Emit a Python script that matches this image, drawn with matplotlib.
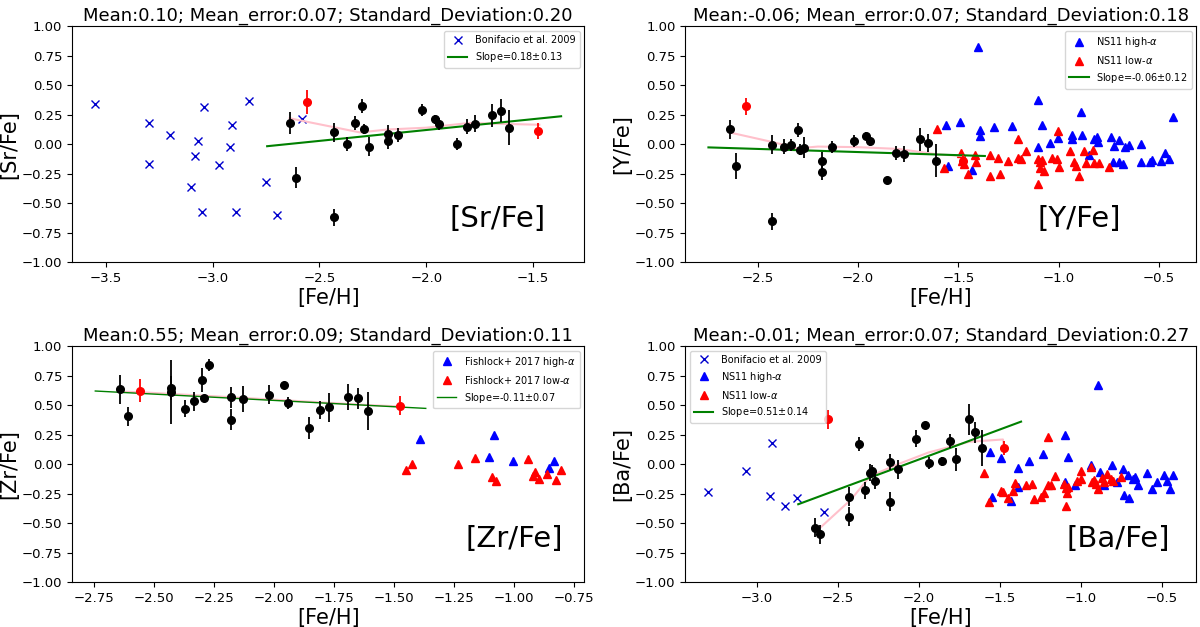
#recreates the neutron-capture abundance panels ([Sr/Fe], [Y/Fe], [Zr/Fe], [Ba/Fe])

import numpy as np
import matplotlib
matplotlib.use('Agg')
import matplotlib.pyplot as plt

#program stars (same [Fe/H] in every panel)
star_feh = [-2.64, -2.61, -2.43, -2.43, -2.37, -2.335, -2.30, -2.29, -2.27, -2.18, -2.18,
            -2.13, -2.02, -1.96, -1.94, -1.855, -1.81, -1.77, -1.69, -1.65, -1.61]

sr_val = [0.18, -0.285, 0.10, -0.62, 0.00, 0.18, 0.325, 0.13, -0.02, 0.09, 0.03,
          0.08, 0.29, 0.21, 0.17, 0.00, 0.15, 0.175, 0.245, 0.285, 0.14]
sr_err = [0.09, 0.09, 0.08, 0.07, 0.06, 0.06, 0.06, 0.04, 0.08, 0.07, 0.07,
          0.06, 0.05, 0.04, 0.05, 0.05, 0.06, 0.07, 0.10, 0.10, 0.15]

y_val = [0.125, -0.185, -0.005, -0.655, -0.02, -0.01, 0.12, -0.045, -0.03, -0.14, -0.235,
         -0.025, 0.03, 0.07, 0.025, -0.30, -0.075, -0.085, 0.04, 0.01, -0.14]
y_err = [0.08, 0.11, 0.08, 0.07, 0.06, 0.05, 0.06, 0.05, 0.09, 0.07, 0.07,
         0.05, 0.05, 0.03, 0.04, 0.02, 0.06, 0.07, 0.10, 0.08, 0.14]

zr_val = [0.634, 0.408, 0.645, 0.615, 0.47, 0.532, 0.713, 0.558, 0.842, 0.566, 0.377,
          0.555, 0.589, 0.67, 0.521, 0.307, 0.459, 0.482, 0.572, 0.558, 0.448]
zr_err = [0.12, 0.08, 0.10, 0.27, 0.07, 0.08, 0.10, 0.03, 0.05, 0.09, 0.09,
          0.11, 0.08, 0.01, 0.05, 0.09, 0.08, 0.12, 0.11, 0.09, 0.16]

ba_val = [-0.535, -0.594, -0.276, -0.445, 0.172, -0.22, -0.07, -0.06, -0.138, 0.02, -0.318,
          -0.042, 0.217, 0.335, 0.014, 0.025, 0.20, 0.042, 0.38, 0.27, 0.138]
ba_err = [0.08, 0.08, 0.08, 0.08, 0.06, 0.07, 0.07, 0.05, 0.07, 0.07, 0.08,
          0.08, 0.07, 0.02, 0.05, 0.04, 0.06, 0.10, 0.13, 0.09, 0.15]

#the two red stars
red_feh = [-2.56, -1.475]
sr_red = [0.36, 0.11]
sr_red_err = [0.10, 0.07]
y_red = [0.32, -0.14]
y_red_err = [0.07, 0.05]
zr_red = [0.623, 0.496]
zr_red_err = [0.10, 0.08]
ba_red = [0.38, 0.141]
ba_red_err = [0.08, 0.06]

#linear fits (end points)
fit_feh = [-2.745, -1.368]
sr_fit = [-0.017, 0.237]
y_fit = [-0.027, -0.100]
zr_fit = [0.620, 0.473]
ba_fit = [-0.338, 0.361]

#running mean (pink)
sr_run_feh = [-2.64, -2.31, -2.18, -2.0, -1.8, -1.69, -1.47]
sr_run = [0.22, 0.10, 0.125, 0.14, 0.18, 0.175, 0.165]
y_run_feh = [-2.64, -2.43, -2.30, -2.2, -2.0, -1.8, -1.61, -1.475]
y_run = [0.10, 0.02, -0.035, -0.02, -0.025, -0.04, -0.085, -0.10]
zr_run_feh = [-2.64, -2.56, -2.2, -1.9, -1.6, -1.477]
zr_run = [0.615, 0.61, 0.57, 0.535, 0.50, 0.49]
ba_run_feh = [-2.62, -2.42, -2.30, -2.13, -1.94, -1.69, -1.48, -1.475]
ba_run = [-0.55, -0.30, -0.10, 0.0, 0.10, 0.19, 0.21, 0.14]

#Bonifacio et al. 2009
bon_sr_feh = [-3.55, -3.30, -3.30, -3.20, -3.10, -3.07, -3.085, -3.04, -3.05, -2.91, -2.92,
              -2.97, -2.89, -2.83, -2.75, -2.70, -2.58]
bon_sr = [0.345, 0.184, -0.164, 0.082, -0.36, 0.031, -0.10, 0.314, -0.573, 0.161, -0.02,
          -0.18, -0.573, 0.364, -0.319, -0.60, 0.212]
bon_ba_feh = [-3.30, -3.07, -2.907, -2.92, -2.829, -2.75, -2.583]
bon_ba = [-0.234, -0.054, 0.177, -0.268, -0.355, -0.282, -0.403]

#NS11 [Y/Fe]
ns_y_hi_feh = [-1.402, -1.563, -1.493, -1.392, -1.392, -1.322, -1.234, -1.103, -1.081, -1.103,
               -1.043, -1.003, -0.932, -0.932, -0.890, -0.882, -0.825, -0.809, -0.802, -0.850,
               -0.741, -0.702, -0.727, -0.672, -0.651, -0.729, -0.699, -0.682, -0.591, -0.591,
               -0.544, -0.533, -0.491, -0.470, -0.452, -0.430, -1.552, -1.434]
ns_y_hi = [0.822, 0.165, 0.188, 0.117, 0.069, 0.148, 0.154, 0.377, 0.159, -0.024,
           0.010, 0.055, 0.080, 0.041, 0.275, 0.080, 0.041, 0.058, 0.018, -0.089,
           0.058, 0.032, -0.016, -0.024, -0.010, -0.151, -0.151, -0.17, 0.001, -0.154,
           -0.150, -0.134, -0.143, -0.075, -0.123, 0.227, -0.185, -0.221]
ns_y_lo_feh = [-1.605, -1.571, -1.485, -1.480, -1.472, -1.452, -1.419, -1.414, -1.342, -1.342,
               -1.302, -1.292, -1.252, -1.203, -1.203, -1.186, -1.161, -1.103, -1.093, -1.081,
               -1.093, -1.073, -1.103, -1.035, -1.011, -1.001, -1.003, -0.942, -0.924, -0.915,
               -0.898, -0.874, -0.864, -0.829, -0.824, -0.797, -0.751]
ns_y_lo = [0.131, -0.199, -0.075, -0.142, -0.171, -0.252, -0.094, -0.151, -0.094, -0.269,
           -0.114, -0.252, -0.145, 0.047, -0.114, -0.123, -0.055, -0.123, -0.151, -0.137,
           -0.202, -0.227, -0.334, -0.117, -0.123, -0.196, 0.109, -0.055, -0.151, -0.188,
           -0.272, -0.061, -0.162, -0.052, -0.157, -0.162, -0.193]

#Fishlock+ 2017 [Zr/Fe]
fl_hi_feh = [-1.393, -1.083, -1.103, -1.004, -0.854, -0.835]
fl_hi = [0.211, 0.251, 0.059, 0.031, -0.031, 0.031]
fl_lo_feh = [-1.452, -1.424, -1.233, -1.164, -1.093, -1.074, -0.943, -0.922, -0.914, -0.895,
             -0.864, -0.824, -0.804]
fl_lo = [-0.048, 0.0, 0.0, 0.054, -0.110, -0.144, 0.042, -0.096, -0.065, -0.127,
         -0.085, -0.135, -0.048]

#NS11 [Ba/Fe]
ns_ba_hi_feh = [-0.890, -1.560, -1.490, -1.387, -1.319, -1.230, -1.096, -1.078, -1.550, -1.430,
                -1.389, -1.096, -1.036, -0.937, -0.880, -0.855, -0.809, -0.741, -0.710, -0.679,
                -0.665, -0.648, -0.731, -0.704, -0.591, -0.557, -0.530, -0.484, -0.468, -0.447,
                -0.428, -0.773]
ns_ba_hi = [0.673, 0.104, 0.054, -0.031, 0.025, 0.087, 0.245, 0.062, -0.276, -0.313,
            -0.192, -0.149, -0.172, -0.008, -0.065, -0.172, -0.003, -0.037, -0.093, -0.127,
            -0.107, -0.177, -0.256, -0.285, -0.073, -0.211, -0.149, -0.093, -0.141, -0.211,
            -0.087, -0.149]
ns_ba_lo_feh = [-1.597, -1.566, -1.490, -1.478, -1.449, -1.416, -1.408, -1.340, -1.303, -1.288,
                -1.247, -1.227, -1.202, -1.181, -1.200, -1.157, -1.103, -1.093, -1.082, -1.090,
                -1.076, -1.020, -1.000, -1.000, -0.937, -0.927, -0.917, -0.903, -0.890, -0.866,
                -0.855, -0.835, -0.814, -0.797, -0.752]
ns_ba_lo = [-0.073, -0.318, -0.223, -0.234, -0.282, -0.225, -0.158, -0.177, -0.163, -0.296,
            -0.276, -0.242, -0.172, -0.172, 0.231, -0.099, -0.163, -0.200, -0.242, -0.352,
            -0.192, -0.144, -0.054, -0.121, -0.023, -0.149, -0.130, -0.163, -0.206, -0.115,
            -0.149, -0.079, -0.121, -0.144, -0.107]

titles = ['Mean:0.10; Mean_error:0.07; Standard_Deviation:0.20',
          'Mean:-0.06; Mean_error:0.07; Standard_Deviation:0.18',
          'Mean:0.55; Mean_error:0.09; Standard_Deviation:0.11',
          'Mean:-0.01; Mean_error:0.07; Standard_Deviation:0.27']
labels = ['[Sr/Fe]', '[Y/Fe]', '[Zr/Fe]', '[Ba/Fe]']
slope_labels = ['Slope=0.18$\\pm$0.13', 'Slope=-0.06$\\pm$0.12',
                'Slope=-0.11$\\pm$0.07', 'Slope=0.51$\\pm$0.14']

fig = plt.figure(figsize=(12, 6.27), dpi=100)
ax_sr = fig.add_axes([0.060, 0.582, 0.427, 0.376])
ax_y = fig.add_axes([0.571, 0.582, 0.426, 0.376])
ax_zr = fig.add_axes([0.060, 0.071, 0.427, 0.377])
ax_ba = fig.add_axes([0.571, 0.071, 0.426, 0.377])


def stars(ax, vals, errs, red, red_err, run_x, run_y, fit_y, slope_label, lw_fit=1.5):
    ax.plot(run_x, run_y, color='pink', lw=1.5, zorder=2)
    line, = ax.plot(fit_feh, fit_y, color='green', lw=lw_fit, label=slope_label, zorder=2.5)
    ax.errorbar(star_feh, vals, yerr=errs, fmt='o', color='black', ms=5.5, elinewidth=1.3,
                capsize=0, zorder=3)
    ax.errorbar(red_feh, red, yerr=red_err, fmt='o', color='red', ms=5.5, elinewidth=1.3,
                capsize=0, zorder=3)
    return line


#[Sr/Fe]
ax_sr.plot(bon_sr_feh, bon_sr, 'x', color='mediumblue', ms=5.5, mew=1, label='Bonifacio et al. 2009')
stars(ax_sr, sr_val, sr_err, sr_red, sr_red_err, sr_run_feh, sr_run, sr_fit, slope_labels[0])

#[Y/Fe]
ax_y.plot(ns_y_hi_feh, ns_y_hi, '^', color='blue', ms=5.5, label='NS11 high-$\\alpha$')
ax_y.plot(ns_y_lo_feh, ns_y_lo, '^', color='red', ms=5.5, label='NS11 low-$\\alpha$')
stars(ax_y, y_val, y_err, y_red, y_red_err, y_run_feh, y_run, y_fit, slope_labels[1])

#[Zr/Fe]
ax_zr.plot(fl_hi_feh, fl_hi, '^', color='blue', ms=5.5, label='Fishlock+ 2017 high-$\\alpha$')
ax_zr.plot(fl_lo_feh, fl_lo, '^', color='red', ms=5.5, label='Fishlock+ 2017 low-$\\alpha$')
stars(ax_zr, zr_val, zr_err, zr_red, zr_red_err, zr_run_feh, zr_run, zr_fit, slope_labels[2], lw_fit=1.0)

#[Ba/Fe]
ax_ba.plot(bon_ba_feh, bon_ba, 'x', color='mediumblue', ms=5.5, mew=1, label='Bonifacio et al. 2009')
ax_ba.plot(ns_ba_hi_feh, ns_ba_hi, '^', color='blue', ms=5.5, label='NS11 high-$\\alpha$')
ax_ba.plot(ns_ba_lo_feh, ns_ba_lo, '^', color='red', ms=5.5, label='NS11 low-$\\alpha$')
stars(ax_ba, ba_val, ba_err, ba_red, ba_red_err, ba_run_feh, ba_run, ba_fit, slope_labels[3])

axes = [ax_sr, ax_y, ax_zr, ax_ba]
text_x = [0.736, 0.69, 0.768, 0.746]
for i, ax in enumerate(axes):
    ax.set_ylim(-1, 1)
    ax.set_yticks(np.arange(-1, 1.01, 0.25))
    ax.tick_params(labelsize=9.5)
    ax.set_title(titles[i], fontsize=13, pad=4)
    ax.set_xlabel('[Fe/H]', fontsize=15, labelpad=2)
    ax.set_ylabel(labels[i], fontsize=15, labelpad=2)
    ax.text(text_x[i], 0.125, labels[i], transform=ax.transAxes, fontsize=21,
            ha='left', va='bottom')
    loc = 'upper left' if ax is ax_ba else 'upper right'
    ax.legend(loc=loc, fontsize=7)

plt.savefig('out.png', dpi=100)
